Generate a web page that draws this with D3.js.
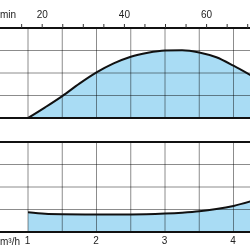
<!DOCTYPE html>
<html>
<head>
<meta charset="utf-8">
<script src="https://cdn.jsdelivr.net/npm/d3@7"></script>
<style>
  body { margin: 0; background: #fff; }
  svg { display: block; font-family: "Liberation Sans", Arial, sans-serif; }
  .grid line { stroke: #8c8c8c; stroke-width: 1; mix-blend-mode: multiply; }
</style>
</head>
<body>
<svg id="chart" width="250" height="250"></svg>
<script>
// flow in m3/h (bottom axis), l/min ticks on top
var flowTicks  = [1, 2, 3, 4];
var lminTicks  = [15, 20, 25, 30, 35, 40, 45, 50, 55, 60, 65, 70];
var lminLabels = [20, 40, 60];

// upper curve (efficiency, %)
var effQ   = [1, 1.25, 1.5, 1.75, 2, 2.25, 2.5, 2.75, 3, 3.25, 3.5, 3.75, 4, 4.25];
var effVal = [0, 9.5, 19.5, 30.5, 40.5, 48.5, 54.5, 58, 60, 60.3, 58.3, 54, 46.5, 38];

// lower curve (NPSH, m)
var npshQ   = [1, 1.25, 1.5, 2, 2.5, 3, 3.25, 3.5, 3.75, 4, 4.25];
var npshVal = [0.88, 0.81, 0.79, 0.78, 0.78, 0.82, 0.86, 0.92, 1.02, 1.16, 1.36];

(function () {
	var svg = d3.select('#chart');
	var W = 250;

	var x  = d3.scaleLinear().domain([1, 4]).range([28, 233.5]);
	var xl = d3.scaleLinear().domain([1000 / 60, 4000 / 60]).range(x.range());
	var yTop = d3.scaleLinear().domain([0, 80]).range([118, 28]);
	var yBot = d3.scaleLinear().domain([0, 4]).range([232, 142]);

	var gridQ = d3.range(1, 4.51, 0.5);

	function panel(y, qs, vals) {
		var pts = qs.map(function(q, i){ return [q, vals[i]]; });
		var y0 = y.range()[0], y1 = y.range()[1];

		svg.append('path')
			.datum(pts)
			.attr('fill', '#a9dcf4')
			.attr('d', d3.area()
				.x(function(d){ return x(d[0]); })
				.y0(y0)
				.y1(function(d){ return y(d[1]); })
				.curve(d3.curveMonotoneX));

		var g = svg.append('g').attr('class', 'grid');
		g.selectAll('.v').data(gridQ).enter().append('line')
			.attr('x1', function(d){ return x(d); })
			.attr('x2', function(d){ return x(d); })
			.attr('y1', y1).attr('y2', y0);
		g.selectAll('.h').data(y.ticks(4).slice(1, -1)).enter().append('line')
			.attr('x1', 0).attr('x2', W)
			.attr('y1', function(d){ return y(d); })
			.attr('y2', function(d){ return y(d); });

		svg.append('path')
			.datum(pts)
			.attr('fill', 'none')
			.attr('stroke', '#111')
			.attr('stroke-width', 2)
			.attr('d', d3.line()
				.x(function(d){ return x(d[0]); })
				.y(function(d){ return y(d[1]); })
				.curve(d3.curveMonotoneX));

		[y0, y1].forEach(function(v){
			svg.append('line')
				.attr('x1', 0).attr('x2', W)
				.attr('y1', v).attr('y2', v)
				.attr('stroke', '#111').attr('stroke-width', 2);
		});
	}

	panel(yTop, effQ, effVal);
	panel(yBot, npshQ, npshVal);

	// top axis in l/min
	var axTop = svg.append('g')
		.attr('transform', 'translate(0,' + yTop.range()[1] + ')')
		.call(d3.axisTop(xl)
			.tickValues(lminTicks)
			.tickSize(4)
			.tickPadding(6)
			.tickFormat(function(d){ return lminLabels.indexOf(d) >= 0 ? d : ''; }));
	axTop.select('.domain').remove();
	axTop.selectAll('line').attr('stroke', '#333');
	axTop.selectAll('text').attr('font-size', 10).attr('fill', '#222');
	axTop.attr('font-family', null);

	// bottom axis in m3/h
	var axBot = svg.append('g')
		.attr('transform', 'translate(0,' + yBot.range()[0] + ')')
		.call(d3.axisBottom(x).tickValues(flowTicks).tickSize(0).tickPadding(5)
			.tickFormat(d3.format('d')));
	axBot.select('.domain').remove();
	axBot.selectAll('text').attr('font-size', 10).attr('fill', '#222').attr('dx', -1);
	axBot.attr('font-family', null);

	// unit labels, left edge (the reference is cropped here)
	svg.append('text')
		.attr('x', 0).attr('y', 17.5)
		.attr('font-size', 10).attr('fill', '#222')
		.text('min');

	svg.append('text')
		.attr('x', 0).attr('y', 244.5)
		.attr('font-size', 10).attr('fill', '#222')
		.text('m³/h');
})();
</script>
</body>
</html>
